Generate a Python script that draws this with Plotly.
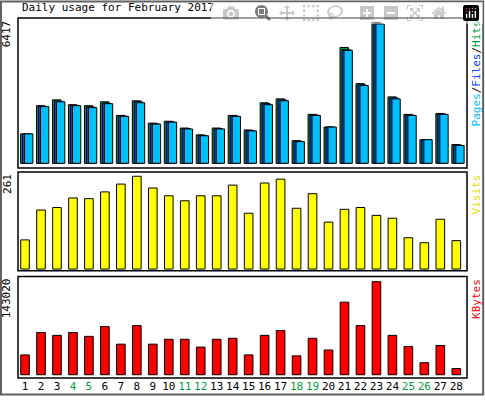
import plotly.graph_objects as go

days = list(range(1, 29))
weekend = [4, 5, 11, 12, 18, 19, 25, 26]

hits = [1342, 2624, 2890, 2669, 2624, 2801, 2182, 2846, 1829, 1917, 1607, 1298, 1607, 2182,
        1519, 2757, 2934, 1032, 2227, 1652, 5276, 3629, 6417, 3024, 2227, 1077, 2271, 855]
files = [1342, 2595, 2830, 2640, 2566, 2742, 2153, 2801, 1800, 1888, 1578, 1269, 1578, 2153,
         1490, 2713, 2889, 1003, 2197, 1652, 5172, 3570, 6358, 2978, 2197, 1077, 2242, 826]
pages = [1342, 2580, 2801, 2624, 2536, 2713, 2138, 2757, 1785, 1873, 1563, 1254, 1563, 2138,
         1475, 2669, 2846, 988, 2182, 1652, 5144, 3541, 6343, 2934, 2182, 1077, 2227, 811]
visits = [82, 166, 173, 200, 198, 217, 239, 261, 228, 206, 192, 206, 206, 236,
          157, 242, 253, 171, 212, 132, 168, 173, 151, 143, 88, 74, 140, 80]
kbytes = [30505, 65010, 60509, 65010, 59008, 74013, 47009, 75513, 47009, 54510, 54510,
          42508, 54510, 56010, 30505, 60509, 68012, 29004, 56010, 38007, 111516, 75513,
          143020, 60509, 43508, 18503, 45008, 9502]

GREEN, BLUE, CYAN = "#00A040", "#0040FF", "#00C0FF"
mono = "DejaVu Sans Mono"

fig = go.Figure()
line = dict(color="black", width=1)
for vals, col, off in [(hits, GREEN, -0.28), (files, BLUE, -0.16), (pages, CYAN, -0.03)]:
    fig.add_trace(go.Bar(x=days, y=vals, marker=dict(color=col, line=line),
                         width=0.52, offset=off, xaxis="x", yaxis="y"))
fig.add_trace(go.Bar(x=days, y=visits, marker=dict(color="#FFFF00", line=line),
                     width=0.54, xaxis="x2", yaxis="y2"))
fig.add_trace(go.Bar(x=days, y=kbytes, marker=dict(color="#FF0000", line=line),
                     width=0.54, xaxis="x3", yaxis="y3"))

ticktext = ["<span style='color:#00A040'>%d</span>" % d if d in weekend else str(d) for d in days]
xr = [0.56, 28.67]
ax = dict(range=xr, showgrid=False, zeroline=False, showline=False)
fig.update_layout(
    width=485, height=405, margin=dict(l=18, r=18, t=18, b=18),
    paper_bgcolor="white", plot_bgcolor="white", showlegend=False,
    barmode="overlay", font=dict(family=mono, size=11, color="black"),
    xaxis=dict(ax, anchor="y", showticklabels=False),
    xaxis2=dict(ax, anchor="y2", showticklabels=False),
    xaxis3=dict(ax, anchor="y3", tickvals=days, ticktext=ticktext, ticks=""),
    yaxis=dict(domain=[0.583, 1], range=[-0.034 * 6417, 1.031 * 6417], visible=False),
    yaxis2=dict(domain=[0.298, 0.572], range=[-0.018 * 261, 1.045 * 261], visible=False),
    yaxis3=dict(domain=[0, 0.282], range=[-0.035 * 143020, 1.056 * 143020], visible=False),
)

shapes = [dict(type="rect", xref="paper", yref="paper", x0=-0.038, x1=1.036, y0=-0.046, y1=1.046,
               line=dict(color="#606060", width=2))]
for y0, y1 in [(0.583, 1), (0.298, 0.572), (0, 0.282)]:
    shapes.append(dict(type="rect", xref="paper", yref="paper", x0=0, x1=1, y0=y0, y1=y1,
                       line=dict(color="black", width=1.5)))
fig.update_layout(shapes=shapes)

ann = [
    dict(text="Daily usage for February 2017", x=0.004, y=1.005, xanchor="left", yanchor="bottom"),
    dict(text="6417", x=-0.006, y=1, xanchor="right", yanchor="top", textangle=-90),
    dict(text="261", x=-0.006, y=0.572, xanchor="right", yanchor="top", textangle=-90),
    dict(text="143020", x=-0.006, y=0.282, xanchor="right", yanchor="top", textangle=-90),
    dict(text="<span style='color:#00C0FF'>Pages</span>/<span style='color:#0040FF'>Files</span>/"
              "<span style='color:#00A040'>Hits</span>",
         x=1.002, y=1, xanchor="left", yanchor="top", textangle=-90),
    dict(text="<span style='color:#E0E000'>Visits</span>", x=1.002, y=0.572,
         xanchor="left", yanchor="top", textangle=-90),
    dict(text="<span style='color:#FF0000'>KBytes</span>", x=1.002, y=0.282,
         xanchor="left", yanchor="top", textangle=-90),
]
fig.update_layout(annotations=[dict(a, xref="paper", yref="paper", showarrow=False) for a in ann])

fig.write_html("out.html", post_script="document.body.style.margin='0';")
